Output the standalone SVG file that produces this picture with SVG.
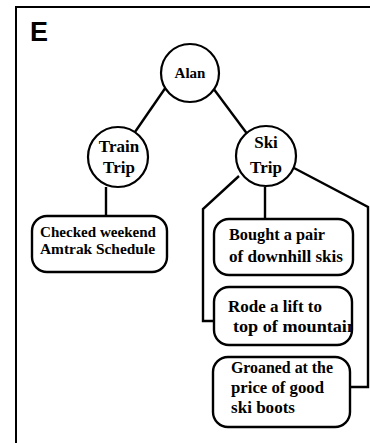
<svg xmlns="http://www.w3.org/2000/svg" width="370" height="443" viewBox="0 0 370 443">
<style>
.frame{fill:none;stroke:#000;stroke-width:2}
.c{fill:#fff;stroke:#000;stroke-width:2.2}
.b{fill:none;stroke:#000;stroke-width:2.4}
.l{fill:none;stroke:#000;stroke-width:2.4;stroke-linejoin:miter}
.t{font-family:"Liberation Serif","Times New Roman",serif;font-weight:bold;fill:#000}
</style>
<defs>
<clipPath id="rodeClip"><rect x="214" y="287" width="138" height="58"/></clipPath>
</defs>
<rect width="370" height="443" fill="#fff"/>
<path class="frame" d="M16,443 V7 H370"/>
<text x="30" y="41" font-family="Liberation Sans, Arial, sans-serif" font-weight="bold" font-size="27">E</text>
<g id="connectors">
<path class="l" d="M166,87 L135,132"/>
<path class="l" d="M213,88 L248,135"/>
<path class="l" d="M106,187 V217"/>
<path class="l" d="M265,187 V219"/>
<path class="l" d="M239,176 L203,209 V321 H214"/>
<path class="l" d="M294,168 L368,207 V387 H350"/>
</g>
<g id="alan">
<circle class="c" cx="190" cy="73" r="29"/>
<text class="t" x="190" y="78" font-size="15" text-anchor="middle">Alan</text>
</g>
<g id="train">
<circle class="c" cx="118" cy="157" r="30"/>
<text class="t" x="119" y="152" font-size="17" text-anchor="middle">Train</text>
<text class="t" x="119" y="173" font-size="17" text-anchor="middle">Trip</text>
</g>
<g id="ski">
<circle class="c" cx="266" cy="156" r="30"/>
<text class="t" x="266" y="148" font-size="17" text-anchor="middle">Ski</text>
<text class="t" x="266" y="173" font-size="17" text-anchor="middle">Trip</text>
</g>
<g id="checked">
<rect class="b" x="32" y="216" width="135" height="56" rx="15"/>
<text class="t" x="40" y="237" font-size="14" textLength="116" lengthAdjust="spacingAndGlyphs">Checked weekend</text>
<text class="t" x="40" y="254" font-size="14" textLength="115" lengthAdjust="spacingAndGlyphs">Amtrak Schedule</text>
</g>
<g id="bought">
<rect class="b" x="214" y="219" width="139" height="56" rx="15"/>
<text class="t" x="229" y="240" font-size="16.5" textLength="96" lengthAdjust="spacingAndGlyphs">Bought a pair</text>
<text class="t" x="229" y="262" font-size="16.5" textLength="114" lengthAdjust="spacingAndGlyphs">of downhill skis</text>
</g>
<g id="rode">
<text class="t" x="228" y="312" font-size="16.5" textLength="94" lengthAdjust="spacingAndGlyphs">Rode a lift to</text>
<text class="t" x="233" y="332" font-size="16.5" textLength="124" lengthAdjust="spacingAndGlyphs" clip-path="url(#rodeClip)">top of mountain</text>
<rect class="b" x="214" y="287" width="138" height="58" rx="15"/>
</g>
<g id="groaned">
<rect class="b" x="213" y="357" width="137" height="70" rx="15"/>
<text class="t" x="231" y="373" font-size="16.5" textLength="102" lengthAdjust="spacingAndGlyphs">Groaned at the</text>
<text class="t" x="231" y="393" font-size="16.5" textLength="93" lengthAdjust="spacingAndGlyphs">price of good</text>
<text class="t" x="231" y="413" font-size="16.5" textLength="64" lengthAdjust="spacingAndGlyphs">ski boots</text>
</g>
</svg>
